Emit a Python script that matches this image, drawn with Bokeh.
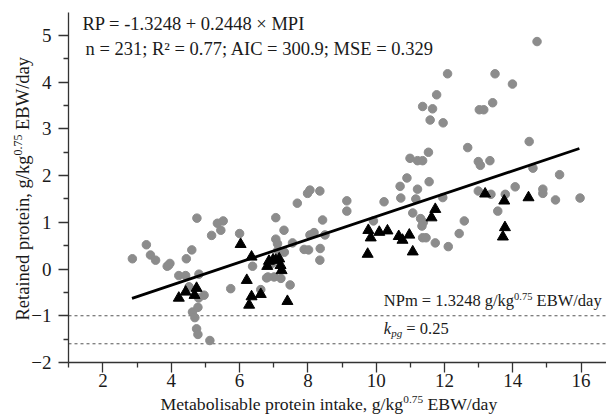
import math
from bokeh.plotting import figure
from bokeh.models import Range1d, FixedTicker, Label
from bokeh.embed import file_html
from bokeh.resources import INLINE

# ---------------- data ----------------
circle_x = [2.86, 3.27, 3.39, 3.54, 3.88, 3.96, 3.92, 4.22, 4.42, 4.44, 4.60, 4.75,
            4.81, 4.52, 4.96, 4.62, 4.78, 4.69, 4.74, 4.78, 4.80, 5.13, 5.18, 5.35,
            5.52, 5.45, 5.74, 6.00, 6.38, 6.62, 6.79,
            8.06, 7.99, 8.35, 7.69, 7.06, 7.30, 7.06, 7.11, 7.55, 7.89, 8.02, 8.06,
            8.18, 8.43, 8.36, 8.35, 8.50, 7.01, 7.21, 7.48, 6.83, 9.14, 9.14, 10.23,
            9.92, 7.12, 7.31, 6.95,
            12.09, 11.77, 11.36, 11.65, 11.58, 11.96, 12.68, 11.53, 10.99, 11.21,
            11.36, 10.90, 10.70, 11.55, 11.21, 10.72, 11.16, 11.95, 11.07, 11.30,
            11.38, 11.34, 12.58, 12.43, 11.36, 11.46, 11.73, 12.11,
            14.71, 13.48, 13.99, 13.41, 13.02, 13.15, 14.48, 12.99, 13.05, 13.33,
            14.59, 15.37, 14.07, 12.99, 13.36, 13.78, 14.88, 14.88, 15.25, 15.97,
            13.56]
circle_y = [0.22, 0.52, 0.30, 0.19, 0.06, 0.12, 0.08, -0.14, -0.14, 0.22, 0.41, 1.09,
            -0.11, -0.38, -0.56, -0.92, -0.82, -1.04, -1.28, -1.40, -0.62, -1.53, 0.72, 0.98,
            1.03, 0.83, -0.42, 0.76, 0.06, -0.44, -0.19,
            1.69, 1.62, 1.67, 1.41, 1.10, 0.83, 0.64, 0.54, 0.56, 0.42, 0.41, 0.73,
            0.78, 1.05, 0.44, 0.19, 0.73, -0.17, -0.20, -0.34, -0.17, 1.46, 1.24, 1.44,
            1.03, 0.40, 0.36, 0.12,
            4.18, 3.73, 3.48, 3.43, 3.19, 3.13, 2.60, 2.50, 2.37, 2.32,
            2.32, 1.95, 1.77, 1.87, 1.71, 1.52, 1.50, 1.53, 1.20, 1.08,
            1.00, 0.92, 1.03, 0.76, 0.67, 0.67, 0.56, 0.48,
            4.87, 4.18, 3.96, 3.56, 3.41, 3.41, 2.73, 2.30, 2.22, 2.32,
            2.16, 2.02, 1.76, 1.67, 1.60, 1.60, 1.71, 1.62, 1.48, 1.52,
            1.24]

tri_x = [4.22, 4.42, 4.68, 4.74, 6.03, 6.35, 6.21, 6.35, 6.28, 6.62, 6.81, 6.86,
         6.98, 7.06, 7.16, 7.20, 7.23, 7.40,
         9.77, 9.84, 9.75, 10.09, 10.33, 10.66, 10.77, 10.97, 11.07, 11.62, 11.73,
         13.19, 13.75, 14.46, 13.77, 13.71]
tri_y = [-0.62, -0.49, -0.56, -0.41, 0.53, 0.26, -0.24, -0.59, -0.77, -0.54, 0.06, 0.17,
         0.20, 0.19, 0.22, 0.08, -0.03, -0.69,
         0.83, 0.67, 0.32, 0.79, 0.82, 0.70, 0.62, 0.73, 0.37, 1.10, 1.28,
         1.61, 1.46, 1.53, 0.89, 0.69]

intercept = -1.3248
slope = 0.2448
fit_x = [2.85, 15.95]
ref_y = [-1.0, -1.6]

x_ticks = [2, 4, 6, 8, 10, 12, 14, 16]
x_minor = [1, 3, 5, 7, 9, 11, 13, 15]
y_ticks = [-2, -1, 0, 1, 2, 3, 4, 5]
y_minor = [-1.5, -0.5, 0.5, 1.5, 2.5, 3.5, 4.5]
y_tick_labels = ["\u22122", "\u22121", "0", "1", "2", "3", "4", "5"]

eq_text = "RP = -1.3248 + 0.2448 \u00d7 MPI"
stats_text = "n = 231; R\u00b2 = 0.77; AIC = 300.9; MSE = 0.329"

# ---------------- layout / style ----------------
W, H = 606, 414
X_AXIS_START, X_AXIS_END = 0.99, 16.744   # extent of the drawn x axis
Y_AXIS_START, Y_AXIS_END = -2.0, 5.49     # extent of the drawn y axis
BASE_FIX = 5                              # label baseline correction, px

FONT = "Liberation Serif"
TXT = "#1a1a1a"
GREY = "#8c8c8c"
AXC = "#333333"

# Times advance widths (per 1000 em) for placing text pieces
TW = {' ': 250, ',': 250, '.': 250, '/': 278, '=': 564, '-': 333,
      'E': 611, 'B': 667, 'W': 944, 'M': 889, 'N': 722, 'P': 556, 'R': 667,
      'a': 444, 'b': 500, 'd': 500, 'e': 444, 'g': 500, 'i': 278, 'k': 500,
      'l': 278, 'm': 778, 'n': 500, 'o': 500, 'p': 500, 'r': 333, 's': 389,
      't': 278, 'y': 500}


def tw(s, size):
    return sum(TW.get(c, 500) for c in s) * size / 1000.0


p = figure(width=W, height=H, output_backend="svg", toolbar_location=None,
           x_range=Range1d(-1.0015, 16.744), y_range=Range1d(-3.114, 5.749),
           min_border=0, title=None)
p.outline_line_color = None
p.background_fill_color = "white"
p.border_fill_color = "white"
p.xgrid.visible = False
p.ygrid.visible = False

for ax in (p.xaxis[0], p.yaxis[0]):
    ax.axis_line_color = AXC
    ax.axis_line_width = 1.3
    ax.major_tick_line_color = AXC
    ax.minor_tick_line_color = AXC
    ax.major_tick_line_width = 1.3
    ax.minor_tick_line_width = 1.3
    ax.major_tick_in = 0
    ax.minor_tick_in = 0
    ax.major_tick_out = 10
    ax.minor_tick_out = 5
    ax.major_label_text_font = FONT
    ax.major_label_text_font_size = "19px"
    ax.major_label_text_color = TXT

p.xaxis[0].ticker = FixedTicker(ticks=x_ticks, minor_ticks=x_minor)
p.yaxis[0].ticker = FixedTicker(ticks=y_ticks, minor_ticks=y_minor)
p.yaxis[0].major_label_overrides = {t: l for t, l in zip(y_ticks, y_tick_labels)}
p.xaxis[0].major_label_standoff = 2
p.yaxis[0].major_label_standoff = 7
p.xaxis[0].fixed_location = Y_AXIS_START
p.yaxis[0].fixed_location = X_AXIS_START
p.xaxis[0].bounds = (X_AXIS_START, X_AXIS_END)
p.yaxis[0].bounds = (Y_AXIS_START, Y_AXIS_END)

# reference dashed lines
p.segment(x0=[X_AXIS_START] * len(ref_y), y0=ref_y,
          x1=[X_AXIS_END] * len(ref_y), y1=ref_y,
          line_color="#555555", line_width=1, line_dash="3 3")

# points
p.scatter(circle_x, circle_y, marker="circle", size=8.5, fill_color=GREY,
          line_color=GREY)
p.scatter(tri_x, tri_y, marker="triangle", size=11, fill_color="black",
          line_color="black")

# regression line
fit_y = [intercept + slope * xv for xv in fit_x]
p.line(fit_x, fit_y, line_color="black", line_width=2.8)


def add_text(px, py, text, size, angle=0.0, style="normal"):
    # px, py: page pixels of the baseline start, from the top-left corner
    if angle:
        px -= BASE_FIX
    else:
        py -= BASE_FIX
    p.add_layout(Label(x=px, y=H - py, x_units="screen", y_units="screen", text=text,
                       text_font=FONT, text_font_size=f"{size}px",
                       text_font_style=style, text_color=TXT, text_align="left",
                       text_baseline="alphabetic", angle=angle))


def sup_raise(big, small):
    return 0.662 * big - 0.676 * small


# equation and statistics
add_text(82, 28, eq_text, 18.5)
add_text(85, 53, stats_text, 18.5)

# NPm annotation
F, f = 16.5, 10.5
part1 = "NPm = 1.3248 g/kg"
x = 383.3
add_text(x, 305, part1, F)
x += tw(part1, F)
add_text(x, 305 - sup_raise(F, f), "0.75", f)
x += tw("0.75", f) + tw(" ", F)
add_text(x, 305, "EBW/day", F)

# k_pg annotation
x = 383.3
add_text(x, 333.3, "k", F, style="italic")
x += tw("k", F) * 0.9
add_text(x, 333.3 + 4.0, "pg", 11, style="italic")
x += tw("pg", 11) + tw(" ", F)
add_text(x, 333.3, "= 0.25", F)

# x-axis title
F, f = 17.7, 11.3
xt1 = "Metabolisable protein intake, g/kg"
x = 160
add_text(x, 408, xt1, F)
x += tw(xt1, F)
add_text(x, 408 - sup_raise(F, f), "0.75", f)
x += tw("0.75", f) + tw(" ", F)
add_text(x, 408, "EBW/day", F)

# y-axis title (rotated, reading upwards)
F, f = 18.5, 12.0
yt1 = "Retained protein, g/kg"
y = 320
add_text(27, y, yt1, F, angle=math.pi / 2)
y -= tw(yt1, F)
add_text(27 - sup_raise(F, f), y, "0.75", f, angle=math.pi / 2)
y -= tw("0.75", f) + tw(" ", F)
add_text(27, y, "EBW/day", F, angle=math.pi / 2)

open("out.html", "w").write(file_html(p, INLINE))
